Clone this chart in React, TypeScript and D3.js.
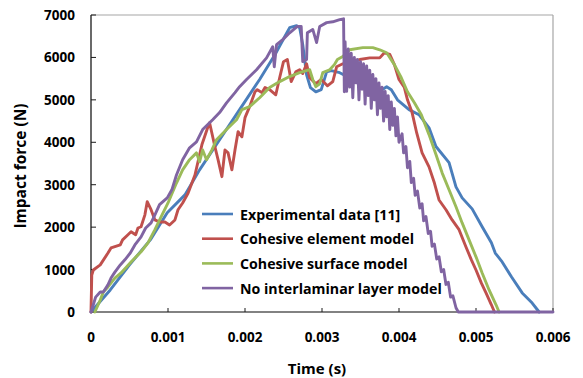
import React from "react";
import * as d3 from "d3";

const xTicks = [0, 0.001, 0.002, 0.003, 0.004, 0.005, 0.006];
const xTickLabels = ["0", "0.001", "0.002", "0.003", "0.004", "0.005", "0.006"];
const yTicks = [0, 1000, 2000, 3000, 4000, 5000, 6000, 7000];
const yTickLabels = ["0", "1000", "2000", "3000", "4000", "5000", "6000", "7000"];

const seriesNames = [
  "Experimental data [11]",
  "Cohesive element model",
  "Cohesive surface model",
  "No interlaminar layer model",
];
const seriesColors = ["#4A7EBB", "#C0504D", "#9BBB59", "#8064A2"];

const experimental: [number, number][] = [
  [0, 0], [0.00025, 520], [0.0005, 1110], [0.00077, 1700], [0.00099, 2340], [0.00122, 2760],
  [0.00141, 3350], [0.00167, 4060], [0.00193, 4770], [0.00219, 5480], [0.00239, 6070],
  [0.00251, 6470], [0.00258, 6700], [0.00267, 6750], [0.00271, 6700], [0.00275, 6300],
  [0.0028, 5590], [0.00285, 5290], [0.00292, 5190], [0.00299, 5240], [0.00306, 5660],
  [0.00312, 5690], [0.00323, 5640], [0.00349, 5400], [0.0037, 5190], [0.00378, 5240],
  [0.00384, 5310], [0.0039, 5240], [0.00398, 5000], [0.00413, 4770], [0.00426, 4650],
  [0.00439, 4340], [0.00448, 3900], [0.00465, 3520], [0.00474, 2950], [0.00482, 2690],
  [0.00495, 2430], [0.00508, 2010], [0.0052, 1630], [0.00525, 1390], [0.00534, 1180],
  [0.00546, 830], [0.0056, 450], [0.00573, 210], [0.00582, 0],
];

const cohesiveElement: [number, number][] = [
  [0, 0], [0.00001, 870], [0.00003, 990], [0.00012, 1110], [0.00022, 1390], [0.00026, 1510],
  [0.00038, 1580], [0.00041, 1700], [0.00048, 1820], [0.00052, 1890], [0.00058, 1820],
  [0.00061, 1980], [0.00065, 2010], [0.0007, 2290], [0.00073, 2600], [0.00078, 2410],
  [0.00083, 2170], [0.00089, 2120], [0.00096, 2120], [0.00102, 2050], [0.00109, 2170],
  [0.00113, 2410], [0.00119, 2570], [0.00126, 2800], [0.00135, 3230], [0.00144, 3940],
  [0.00152, 4370], [0.00154, 4460], [0.00161, 3890], [0.00165, 3590], [0.0017, 3190],
  [0.00174, 3820], [0.00178, 3750], [0.00183, 3350], [0.00187, 3820], [0.00191, 4250],
  [0.00196, 4130], [0.002, 4580], [0.00206, 4840], [0.00213, 5190], [0.00216, 5240],
  [0.00222, 5170], [0.00226, 5290], [0.00232, 5240], [0.0024, 5120], [0.00245, 5520],
  [0.0025, 5900], [0.00255, 5950], [0.0026, 5430], [0.00266, 5660], [0.00271, 5710],
  [0.00275, 5620], [0.0028, 5850], [0.00284, 5520], [0.00292, 5380], [0.00299, 5480],
  [0.00307, 5330], [0.00314, 5430], [0.00319, 5780], [0.00327, 5850], [0.00336, 5900],
  [0.00349, 5950], [0.00362, 5990], [0.00375, 5990], [0.00381, 6110], [0.00388, 6070],
  [0.00394, 5830], [0.004, 5480], [0.00407, 5290], [0.00411, 5000], [0.00417, 4700],
  [0.00423, 4220], [0.0043, 3750], [0.00439, 3420], [0.00446, 3040], [0.00452, 2640],
  [0.00461, 2410], [0.00469, 2170], [0.00478, 1940], [0.00487, 1530], [0.00494, 1230],
  [0.005, 990], [0.00507, 680], [0.00513, 450], [0.0052, 170], [0.00524, 0],
];

const cohesiveSurface: [number, number][] = [
  [0.00005, 0], [0.00012, 280], [0.00016, 470], [0.00022, 590], [0.00031, 800], [0.00039, 920],
  [0.00052, 1180], [0.00065, 1420], [0.00074, 1630], [0.00083, 1940], [0.00091, 2240],
  [0.001, 2570], [0.00111, 3040], [0.00119, 3350], [0.00128, 3590], [0.00137, 3750],
  [0.00141, 3540], [0.00145, 3820], [0.0015, 3590], [0.00157, 3820], [0.00163, 4060],
  [0.00176, 4300], [0.00189, 4530], [0.00196, 4770], [0.00206, 4840], [0.00219, 5050],
  [0.00232, 5290], [0.00245, 5430], [0.00258, 5550], [0.00271, 5640], [0.00284, 5710],
  [0.00288, 5480], [0.00292, 5310], [0.00297, 5380], [0.00301, 5640], [0.0031, 5710],
  [0.00316, 5830], [0.0032, 5950], [0.00327, 6020], [0.00336, 6180], [0.00353, 6230],
  [0.00366, 6230], [0.00375, 6180], [0.00384, 6110], [0.00394, 5830], [0.00403, 5520],
  [0.00411, 5190], [0.0042, 4930], [0.00429, 4650], [0.00439, 4180], [0.00448, 3710],
  [0.00456, 3280], [0.00465, 2880], [0.00474, 2480], [0.00482, 2100], [0.00491, 1700],
  [0.005, 1300], [0.00508, 920], [0.00517, 520], [0.00526, 170], [0.0053, 0],
];

const noInterlaminar: [number, number][] = [
  [0, 0], [0.00003, 170], [0.00006, 350], [0.00012, 470], [0.00016, 470], [0.00022, 640],
  [0.00026, 800], [0.00031, 940], [0.00038, 1110], [0.00044, 1230], [0.00051, 1390],
  [0.00057, 1580], [0.00065, 1770], [0.00071, 1980], [0.00078, 2100], [0.00083, 2290],
  [0.00089, 2530], [0.00099, 2690], [0.00105, 2880], [0.00111, 3230], [0.00119, 3590],
  [0.00128, 3870], [0.00137, 4010], [0.00145, 4300], [0.00158, 4530], [0.00167, 4700],
  [0.00176, 4930], [0.00187, 5170], [0.00193, 5310], [0.00202, 5480], [0.00215, 5710],
  [0.00228, 5990], [0.00236, 6250], [0.00238, 5780], [0.00241, 6300], [0.00249, 6420],
  [0.00258, 6580], [0.00268, 6730], [0.00273, 6730], [0.00275, 5900], [0.0028, 5950],
  [0.00281, 6580], [0.00288, 6660], [0.00293, 6350], [0.00297, 6730], [0.00306, 6820],
  [0.00314, 6840], [0.00323, 6890], [0.00328, 6910], [0.00329, 5190],
  [0.0033, 6370], [0.00332, 5200], [0.00334, 6200], [0.00336, 5300], [0.00338, 6100],
  [0.0034, 5050], [0.00342, 6000], [0.00344, 5400], [0.00346, 5950], [0.00348, 5000],
  [0.0035, 5900], [0.00352, 5250], [0.00354, 5850], [0.00356, 4900], [0.00358, 5800],
  [0.0036, 5100], [0.00362, 5700], [0.00364, 4800], [0.00366, 5600], [0.00368, 5000],
  [0.0037, 5500], [0.00372, 4650], [0.00374, 5400], [0.00376, 4800], [0.00378, 5300],
  [0.0038, 4500], [0.00382, 5200], [0.00384, 4600], [0.00386, 5100], [0.00388, 4300],
  [0.0039, 4950], [0.00392, 4400], [0.00394, 4800], [0.00396, 4150], [0.00398, 4600],
  [0.004, 4000], [0.00404, 4200], [0.00406, 3750], [0.00409, 3900], [0.00411, 3400],
  [0.00414, 3550], [0.00416, 3050], [0.00419, 3150], [0.00421, 2750], [0.00424, 2850],
  [0.00427, 2450], [0.0043, 2550], [0.00432, 2150], [0.00435, 2250], [0.00438, 1850],
  [0.00441, 1900], [0.00443, 1550], [0.00446, 1600], [0.00449, 1250], [0.00452, 1300],
  [0.00455, 950], [0.00458, 1000], [0.00461, 650], [0.00464, 700], [0.00467, 350],
  [0.0047, 380], [0.00474, 100], [0.00477, 0], [0.006, 0],
];

const allSeries = [experimental, cohesiveElement, cohesiveSurface, noInterlaminar];

const W = 583;
const H = 378;
const FONT = "'Open Sans', Lato, sans-serif";

export default function App() {
  const x = d3.scaleLinear().domain([0, 0.006]).range([91, 553]);
  const y = d3.scaleLinear().domain([0, 7000]).range([312, 15]);
  const line = d3
    .line<[number, number]>()
    .x((d) => x(d[0]))
    .y((d) => y(d[1]));

  const legendX = 202;
  const legendY = 214;
  const legendStep = 24.7;

  return (
    <svg
      width={W}
      height={H}
      style={{ position: "absolute", left: 0, top: 0, background: "#fff" }}
      fontFamily={FONT}
    >
      <rect x={0} y={0} width={W} height={H} fill="#fff" />
      {/* plot border top & right */}
      <line x1={x(0)} x2={x(0.006)} y1={y(7000)} y2={y(7000)} stroke="#A6A6A6" strokeWidth={1.2} />
      <line x1={x(0.006)} x2={x(0.006)} y1={y(7000)} y2={y(0)} stroke="#A6A6A6" strokeWidth={1.2} />

      {/* axes */}
      <line x1={x(0)} x2={x(0.006)} y1={y(0)} y2={y(0)} stroke="#595959" strokeWidth={1.5} />
      <line x1={x(0)} x2={x(0)} y1={y(0)} y2={y(7000)} stroke="#1a1a1a" strokeWidth={1.3} />
      {yTicks.map((t, i) => (
        <g key={"y" + i}>
          <line x1={x(0)} x2={x(0) + 5} y1={y(t)} y2={y(t)} stroke="#1a1a1a" strokeWidth={1} />
          <text
            x={75}
            y={y(t)}
            textAnchor="end"
            dominantBaseline="central"
            fontSize={13.5}
            fontWeight="bold"
            fill="#000"
          >
            {yTickLabels[i]}
          </text>
        </g>
      ))}
      {xTicks.map((t, i) => (
        <g key={"x" + i}>
          <line x1={x(t)} x2={x(t)} y1={y(0)} y2={y(0) - 4} stroke="#1a1a1a" strokeWidth={1} />
          <text
            x={x(t)}
            y={337}
            textAnchor="middle"
            dominantBaseline="central"
            fontSize={13.5}
            fontWeight="bold"
            fill="#000"
          >
            {xTickLabels[i]}
          </text>
        </g>
      ))}

      {/* series */}
      {allSeries.map((s, i) => (
        <path
          key={i}
          d={line(s) || ""}
          fill="none"
          stroke={seriesColors[i]}
          strokeWidth={2.9}
          strokeLinejoin="round"
          strokeLinecap="round"
        />
      ))}

      {/* axis titles */}
      <text x={317} y={368} textAnchor="middle" dominantBaseline="central" fontSize={15} fontWeight="bold" fill="#000">
        Time  (s)
      </text>
      <text
        transform={`translate(20,166) rotate(-90)`}
        textAnchor="middle"
        dominantBaseline="central"
        fontSize={15.5}
        fontWeight="bold"
        fill="#000"
      >
        Impact force (N)
      </text>

      {/* legend */}
      {seriesNames.map((n, i) => (
        <g key={"l" + i}>
          <line
            x1={legendX}
            x2={legendX + 31}
            y1={legendY + i * legendStep}
            y2={legendY + i * legendStep}
            stroke={seriesColors[i]}
            strokeWidth={2.6}
          />
          <text
            x={legendX + 38}
            y={legendY + i * legendStep}
            dominantBaseline="central"
            fontSize={14.2}
            fontWeight="bold"
            fill="#000"
          >
            {n}
          </text>
        </g>
      ))}
    </svg>
  );
}
